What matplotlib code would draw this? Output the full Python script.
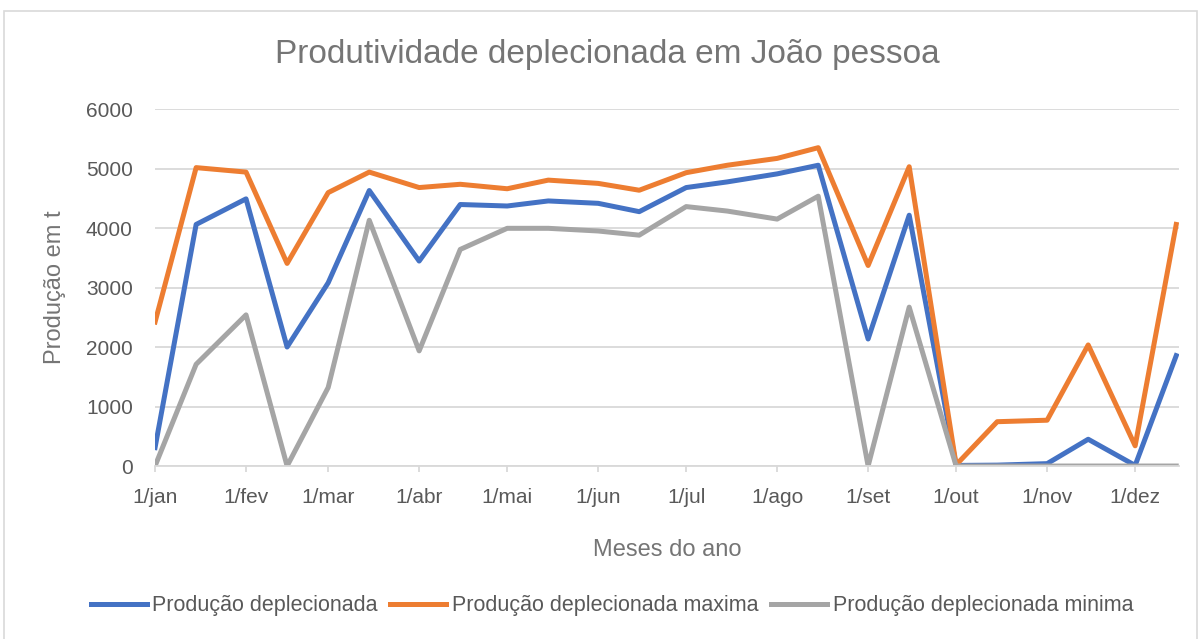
import pandas as pd
import matplotlib.pyplot as plt
from matplotlib.patches import Rectangle

plt.rcParams['font.family'] = ['Liberation Sans', 'DejaVu Sans']

# datas: dia 1 e dia 15 de cada mes
datas = pd.to_datetime([f'2021-{m:02d}-{d:02d}' for m in range(1, 13) for d in (1, 15)])

meses = ['jan', 'fev', 'mar', 'abr', 'mai', 'jun', 'jul', 'ago', 'set', 'out', 'nov', 'dez']

prod = [310, 4060, 4490, 2000, 3080, 4630, 3445, 4395, 4370, 4455, 4415, 4275,
        4680, 4775, 4910, 5055, 2135, 4215, 10, 15, 40, 450, 10, 1855]
prod_max = [2420, 5015, 4940, 3405, 4595, 4940, 4680, 4735, 4660, 4805, 4750, 4635,
            4930, 5055, 5170, 5350, 3370, 5030, 20, 745, 770, 2035, 340, 4060]
prod_min = [0, 1710, 2540, 0, 1320, 4130, 1935, 3640, 3995, 3995, 3950, 3880,
            4360, 4285, 4150, 4535, 0, 2670, 0, 0, 0, 0, 0, 0]

fig = plt.figure(figsize=(12.02, 6.39), dpi=100)
ax = fig.add_axes([0.129, 0.2707, 0.852, 0.5587])

ax.plot(datas, prod, color='#4472C4', lw=3.6, label='Produção deplecionada', solid_joinstyle='round')
ax.plot(datas, prod_max, color='#ED7D31', lw=3.6, label='Produção deplecionada maxima', solid_joinstyle='round')
ax.plot(datas, prod_min, color='#A5A5A5', lw=3.6, label='Produção deplecionada minima', solid_joinstyle='round')

ax.set_ylim(0, 6000)
ax.set_yticks(range(0, 6001, 1000))
ax.set_xlim(pd.Timestamp('2021-01-01'), pd.Timestamp('2021-12-16'))
ticks = pd.to_datetime([f'2021-{m:02d}-01' for m in range(1, 13)])
ax.set_xticks(ticks)
ax.set_xticklabels(['1/' + m for m in meses])

ax.grid(axis='y', color='#D9D9D9', lw=1.3)
ax.set_axisbelow(True)
for s in ['top', 'right', 'left']:
    ax.spines[s].set_visible(False)
ax.spines['bottom'].set_color('#D9D9D9')
ax.spines['bottom'].set_linewidth(1.3)
ax.tick_params(axis='y', length=0, pad=16, labelsize=15, labelcolor='#595959')
ax.tick_params(axis='x', length=4, color='#D9D9D9', width=1.3, pad=12, labelsize=15, labelcolor='#595959')

fig.text(0.505, 0.914, 'Produtividade deplecionada em João pessoa', ha='center', va='center',
         fontsize=24, color='#757575')
fig.text(0.555, 0.139, 'Meses do ano', ha='center', va='center', fontsize=17, color='#757575')
fig.text(0.046, 0.551, 'Produção em t', ha='center', va='center', rotation=90, fontsize=17, color='#757575')

fig.legend(loc='center', bbox_to_anchor=(0.509, 0.052), ncol=3, frameon=False, fontsize=15.5,
           handlelength=2.6, handletextpad=0.25, columnspacing=0.6, labelcolor='#595959')

fig.patches.append(Rectangle((4 / 1202, -0.01), 1193 / 1202, 1 - 11 / 639 + 0.01,
                             transform=fig.transFigure, fill=False, edgecolor='#D9D9D9', lw=1.2))

fig.savefig('out.png', dpi=100)
